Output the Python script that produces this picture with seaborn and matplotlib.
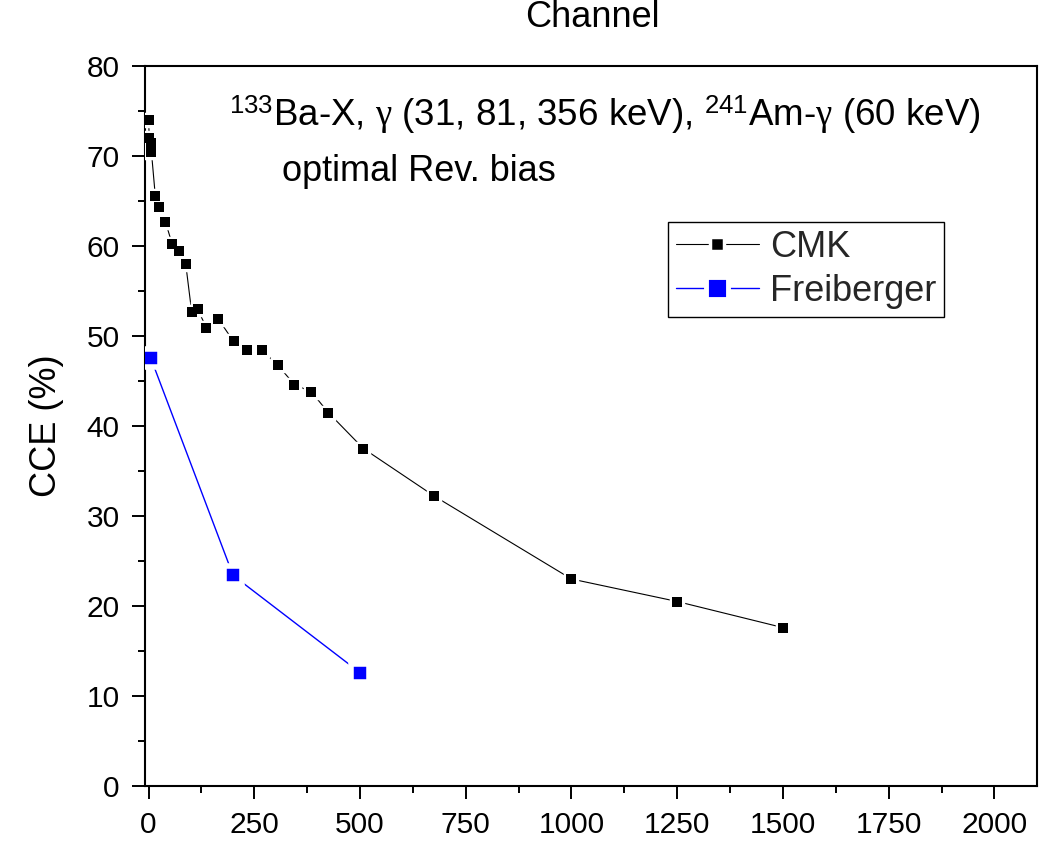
import matplotlib
matplotlib.use("Agg")
import matplotlib.pyplot as plt
from matplotlib.lines import Line2D
from matplotlib.ticker import MultipleLocator
import seaborn as sns
import pandas as pd

# CMK detector: charge collection efficiency vs channel
cmk_channel = [0, 2, 5, 7, 16, 24, 40, 56, 72, 88, 102, 116, 137, 165, 201,
               234, 269, 305, 345, 385, 425, 508, 676, 1000, 1250, 1500]
cmk_cce = [74.0, 72.0, 71.4, 70.4, 65.6, 64.3, 62.7, 60.2, 59.5, 58.0, 52.7,
           53.0, 50.9, 51.9, 49.4, 48.5, 48.4, 46.8, 44.6, 43.8, 41.5, 37.5,
           32.2, 23.0, 20.5, 17.6]

# Freiberger detector
frei_channel = [5, 200, 500]
frei_cce = [47.6, 23.4, 12.6]

x_ticks = [0, 250, 500, 750, 1000, 1250, 1500, 1750, 2000]
y_ticks = [0, 10, 20, 30, 40, 50, 60, 70, 80]

sns.set_theme(style="white")
plt.rcParams["font.family"] = ["Liberation Sans", "DejaVu Sans"]
plt.rcParams["mathtext.fontset"] = "custom"
plt.rcParams["mathtext.rm"] = "Liberation Sans"
plt.rcParams["mathtext.it"] = "Liberation Serif"
plt.rcParams["mathtext.bf"] = "Liberation Sans:bold"

cmk = pd.DataFrame({"channel": cmk_channel, "cce": cmk_cce})
frei = pd.DataFrame({"channel": frei_channel, "cce": frei_cce})

W, H = 1054, 849
fig = plt.figure(figsize=(W / 100, H / 100), dpi=100)
ax = fig.add_axes([144.7 / W, 1 - 786 / H, (1036.7 - 144.7) / W, (786 - 66) / H])

# lines with a white halo round each marker, then solid markers on top
sns.lineplot(data=cmk, x="channel", y="cce", ax=ax, sort=False, color="black",
             lw=0.8, marker="s", markersize=9.0, markeredgecolor="white",
             markeredgewidth=2.5, markerfacecolor="black", zorder=3)
sns.scatterplot(data=cmk, x="channel", y="cce", ax=ax, marker="s", s=6.5 ** 2,
                color="black", linewidth=0, zorder=4)
sns.lineplot(data=frei, x="channel", y="cce", ax=ax, sort=False, color="#0000ff",
             lw=1.0, marker="s", markersize=13.1, markeredgecolor="white",
             markeredgewidth=4, markerfacecolor="#0000ff", zorder=3)
sns.scatterplot(data=frei, x="channel", y="cce", ax=ax, marker="s", s=9.1 ** 2,
                color="#0000ff", linewidth=0, zorder=4)

ax.set_xlim(-9, 2100)
ax.set_ylim(0, 80)
ax.set_xticks(x_ticks)
ax.set_yticks(y_ticks)
ax.xaxis.set_minor_locator(MultipleLocator(125))
ax.yaxis.set_minor_locator(MultipleLocator(5))
ax.tick_params(which="major", direction="out", length=9.4, width=1.4,
               labelsize=21.5, color="black", labelcolor="black", pad=8.5,
               top=False, right=False, bottom=True, left=True)
ax.tick_params(which="minor", direction="out", length=4.8, width=1.4,
               color="black", top=False, right=False, bottom=True, left=True)
for s in ax.spines.values():
    s.set_visible(True)
    s.set_color("black")
    s.set_linewidth(1.5)
ax.grid(False)

ax.set_xlabel("")
ax.set_ylabel("CCE (%)", fontsize=26, color="black", labelpad=16)

fig.text(592 / W, 1 - 27 / H, "Channel", fontsize=26, ha="center",
         va="baseline", color="black")

ax.text(229 / W, 1 - 126 / H,
        r"$^{133}$Ba-X, $\gamma$ (31, 81, 356 keV), $^{241}$Am-$\gamma$ (60 keV)",
        transform=fig.transFigure, fontsize=26.5, va="baseline", color="black")
ax.text(282 / W, 1 - 181 / H, "optimal Rev. bias",
        transform=fig.transFigure, fontsize=26, va="baseline", color="black")

handles = [
    (Line2D([], [], color="black", lw=0.8),
     Line2D([], [], ls="none", marker="s", markersize=9.5,
            markerfacecolor="black", markeredgecolor="white",
            markeredgewidth=2.5)),
    (Line2D([], [], color="#0000ff", lw=1.0),
     Line2D([], [], ls="none", marker="s", markersize=15.5,
            markerfacecolor="#0000ff", markeredgecolor="white",
            markeredgewidth=3.5)),
]
leg = ax.legend(handles, ["CMK", "Freiberger"], loc="upper left",
                bbox_to_anchor=(668 / W, 1 - 222 / H),
                bbox_transform=fig.transFigure, borderaxespad=0,
                fontsize=26, handlelength=2.3, handletextpad=0.3,
                labelspacing=0.25, borderpad=0.22, fancybox=False,
                framealpha=1, edgecolor="black")
leg.get_frame().set_linewidth(1.0)

fig.savefig("out.png", dpi=100)
